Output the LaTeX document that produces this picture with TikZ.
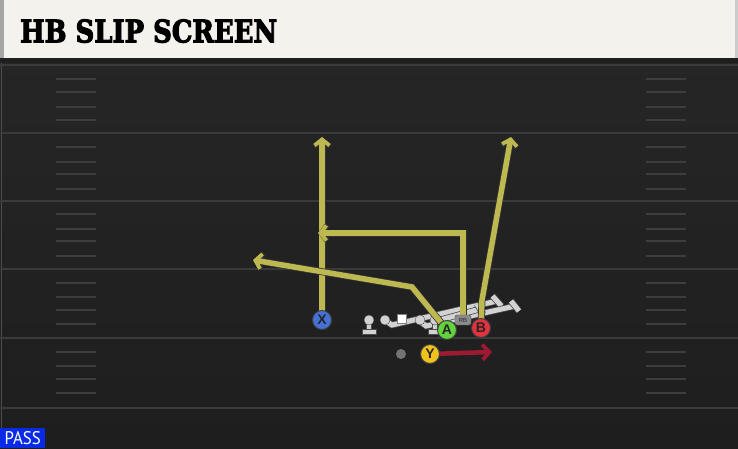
\documentclass[tikz,border=0pt]{standalone}
\usepackage{fontspec}
\usepackage{graphicx}
\usetikzlibrary{arrows.meta}
\definecolor{fieldtop}{HTML}{272727}
\definecolor{fieldbot}{HTML}{1E1E1E}
\definecolor{headerbg}{HTML}{F4F2EC}
\definecolor{yardline}{HTML}{3A3A3A}
\definecolor{hashc}{HTML}{3D3D3D}
\definecolor{routey}{HTML}{BDB850}
\definecolor{routered}{HTML}{9E1A32}
\definecolor{pxblue}{HTML}{4472D8}
\definecolor{pagreen}{HTML}{62D33C}
\definecolor{pbred}{HTML}{E2323E}
\definecolor{pyyel}{HTML}{F0C21C}
\definecolor{olgrey}{HTML}{D2D2D2}
\definecolor{passblue}{HTML}{0A2BE6}
\newfontfamily\titlefont[FakeBold=3.5]{DejaVu Serif}
\newfontfamily\labfont{Liberation Sans}
\newfontfamily\passfont{PT Sans}
\pgfdeclarelayer{back}
\pgfdeclarelayer{ol}
\pgfdeclarelayer{routes}
\pgfsetlayers{back,ol,routes,main}
\tikzset{
  player/.style={circle, minimum size=19pt, inner sep=0pt, draw=black!75, line width=1pt,
    font=\labfont\bfseries\fontsize{14}{14}\selectfont, text=black!85},
  route/.style={draw=routey, line width=5.5pt, line join=miter,
    -{Straight Barb[length=6pt,width=15pt,line width=3.8pt]},
    preaction={draw=black!80, line width=7pt, -{Straight Barb[length=6pt,width=16pt,line width=5.3pt]}}},
  redroute/.style={draw=routered, line width=4.5pt,
    -{Straight Barb[length=7pt,width=15pt,line width=3.8pt]}},
  olline/.style={draw=olgrey, line width=5pt, preaction={draw=black!70, line width=6.5pt}},
  yard/.style={draw=yardline, line width=2.5pt},
  hashm/.style={draw=hashc, line width=2pt},
}
\begin{document}
\begin{tikzpicture}[x=1pt,y=-1pt]
\useasboundingbox (0,0) rectangle (738,448);
\begin{pgfonlayer}{back}
  \shade[top color=fieldtop, bottom color=fieldbot] (0,0) rectangle (738,448);
  \draw[black!70, line width=1pt] (1.5,60) -- (1.5,448);
  \foreach \y in {65,133,201,269,338,408} \draw[yard] (0,\y) -- (738,\y);
  \foreach \y in {79,92,107,120,147,162,174,189,214,229,241,256,283,297,310,324,352,366,379,393} {
    \draw[hashm] (56,\y) -- (96,\y);
    \draw[hashm] (646,\y) -- (686,\y);
  }
  \fill[black!88] (0,56) rectangle (738,63);
  \fill[headerbg] (0,0) rectangle (735,58);
  \fill[black!35] (0,0) rectangle (4,58);
  \fill[black!20] (735,0) rectangle (738,58);
\end{pgfonlayer}
\node[anchor=south west, inner sep=0pt] (title) at (20,43)
  {\resizebox{257pt}{23pt}{\titlefont\bfseries HB SLIP SCREEN}};
\node[anchor=south west, fill=passblue, text=white, minimum width=45pt, minimum height=20pt,
  inner sep=0pt] (pass) at (0,448) {\resizebox{36pt}{13pt}{\passfont PASS}};
% offensive line
\begin{pgfonlayer}{ol}
  \draw[olline] (386,321) -- (392,325) -- (497,301);
  \draw[olline] (492.5,296) -- (501.5,306);
  \draw[olline] (420,321) -- (426,326) -- (515,306);
  \draw[olline] (511,301) -- (519,311);
  \draw[olline] (436,321) -- (480,309);
  \draw[olline] (477,304) -- (483,314);
  \fill[olgrey, draw=black!70] (385,320) circle (5);
  \fill[olgrey, draw=black!70] (420,320) circle (5);
  \foreach \x in {369,435} {
    \fill[olgrey, draw=black!70] (\x-2.5,320) rectangle (\x+2.5,331);
    \fill[olgrey, draw=black!70] (\x-7,329) rectangle (\x+7,334);
    \fill[olgrey, draw=black!70] (\x,320) circle (5);
  }
  \fill[white, draw=black!50] (397,314) rectangle (406,323);
\end{pgfonlayer}
% players
\node[player, fill=pxblue] (X) at (322,320) {X};
\node[player, fill=pagreen] (A) at (447,330) {A};
\node[player, fill=pbred] (B) at (481,328) {B};
\node[player, fill=pyyel] (Y) at (430,354) {Y};
\node[fill=black!45, draw=black!70, rounded corners=1.5pt, minimum width=16pt, minimum height=10pt, inner sep=0pt,
  font=\labfont\fontsize{6}{6}\selectfont, text=black!85] (RB) at (463,320) {RB};
\node[circle, fill=black!55, minimum size=10pt, inner sep=0pt] (QB) at (401,354) {};
% route endpoints
\coordinate (xend) at (322,137);
\coordinate (rbturn) at (463,233);
\coordinate (rbend) at (318,233);
\coordinate (abreak) at (412,287);
\coordinate (aend) at (253,260);
\coordinate (bbend) at (482,300);
\coordinate (bend) at (511,137);
\coordinate (yend) at (492,352);
\begin{pgfonlayer}{routes}
  \draw[route] (X.center) -- (xend);
  \draw[route] (RB.center) -- (rbturn) -- (rbend);
  \draw[route] (A.center) -- (abreak) -- (aend);
  \draw[route] (B.center) -- (bbend) -- (bend);
  \draw[redroute] (Y.center) -- (yend);
\end{pgfonlayer}
\end{tikzpicture}
\end{document}
